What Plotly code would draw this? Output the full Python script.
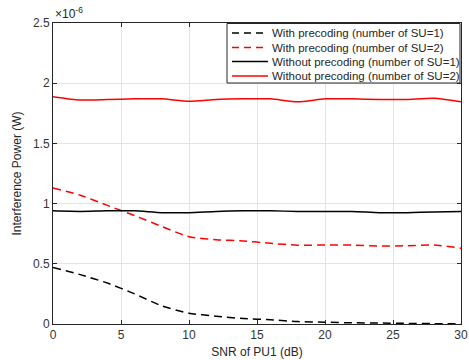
import plotly.graph_objects as go

snr = [0, 2, 4, 6, 8, 10, 12, 14, 16, 18, 20, 22, 24, 26, 28, 30]
with_su1 = [0.47, 0.41, 0.34, 0.25, 0.15, 0.09, 0.065, 0.045, 0.035, 0.02, 0.015, 0.01, 0.008, 0.005, 0.003, 0.002]
with_su2 = [1.13, 1.07, 0.985, 0.90, 0.81, 0.725, 0.70, 0.69, 0.67, 0.655, 0.656, 0.655, 0.648, 0.65, 0.656, 0.63]
without_su1 = [0.94, 0.935, 0.94, 0.94, 0.925, 0.925, 0.935, 0.94, 0.94, 0.935, 0.935, 0.935, 0.925, 0.925, 0.93, 0.935]
without_su2 = [1.888, 1.86, 1.865, 1.87, 1.87, 1.85, 1.865, 1.87, 1.87, 1.845, 1.87, 1.87, 1.865, 1.865, 1.875, 1.845]
names = ["With precoding (number of SU=1)", "With precoding (number of SU=2)",
         "Without precoding (number of SU=1)", "Without precoding (number of SU=2)"]
xticks = [0, 5, 10, 15, 20, 25, 30]
yticks = [0, 0.5, 1, 1.5, 2, 2.5]
ylabels = ["0", "0.5", "1", "1.5", "2", "2.5"]

FONT = "Liberation Sans, Arial"
TXT = "#262626"
L, R, T, B = 53, 461, 23, 324
W, H = 469, 360


def px(x):
    return (x - L) / (R - L)


def py(y):
    return (B - y) / (B - T)


fig = go.Figure()
series = [(with_su1, "black", "8px,5px"), (with_su2, "#ff0000", "8px,5px"),
          (without_su1, "black", "solid"), (without_su2, "#ff0000", "solid")]
for (vals, col, dash), nm in zip(series, names):
    fig.add_trace(go.Scatter(x=snr, y=vals, mode="lines", name=nm, showlegend=False,
                             line=dict(color=col, width=1.5, dash=dash, shape="spline", smoothing=0.6)))

axis_common = dict(showline=True, linecolor=TXT, linewidth=1, mirror="ticks",
                   ticks="inside", ticklen=4, tickcolor=TXT, automargin=False,
                   showgrid=True, gridcolor="#e3e3e3", gridwidth=1, zeroline=False,
                   tickfont=dict(family=FONT, size=12, color="#333333"))
fig.update_xaxes(range=[0, 30], tickvals=xticks,
                 title=dict(text="SNR of PU1 (dB)", standoff=6, font=dict(family=FONT, size=12, color=TXT)),
                 **axis_common)
fig.update_yaxes(range=[0, 2.5], tickvals=yticks, ticktext=ylabels,
                 title=dict(text="Interference Power (W)", standoff=8, font=dict(family=FONT, size=12, color=TXT)),
                 **axis_common)

fig.add_annotation(x=0, y=1, xref="paper", yref="paper", xanchor="left", yanchor="bottom",
                   text="×10<sup>-6</sup>", showarrow=False,
                   font=dict(family=FONT, size=12, color=TXT))

# legend box drawn manually for compact MATLAB-like spacing
shapes = [dict(type="rect", xref="paper", yref="paper", x0=px(227), x1=px(460), y0=py(83), y1=py(23.5),
               line=dict(color=TXT, width=1), fillcolor="white", layer="above")]
rows = [33, 47.5, 61.5, 76]
for (vals, col, dash), nm, ry in zip(series, names, rows):
    shapes.append(dict(type="line", xref="paper", yref="paper", x0=px(232), x1=px(268), y0=py(ry), y1=py(ry),
                       line=dict(color=col, width=1.5, dash=("7px,5px" if dash != "solid" else "solid")),
                       layer="above"))
    fig.add_annotation(x=px(270), y=py(ry), xref="paper", yref="paper", xanchor="left", yanchor="middle",
                       text=nm, showarrow=False, font=dict(family=FONT, size=11.5, color=TXT))

fig.update_layout(
    width=W, height=H,
    margin=dict(l=L, r=W - R, t=T, b=H - B),
    plot_bgcolor="white", paper_bgcolor="white",
    font=dict(family=FONT, size=12, color=TXT),
    shapes=shapes,
    showlegend=False,
)
fig.write_html("out.html", config={"displayModeBar": False},
               post_script="document.body.style.margin='0px';document.body.style.overflow='hidden';")
